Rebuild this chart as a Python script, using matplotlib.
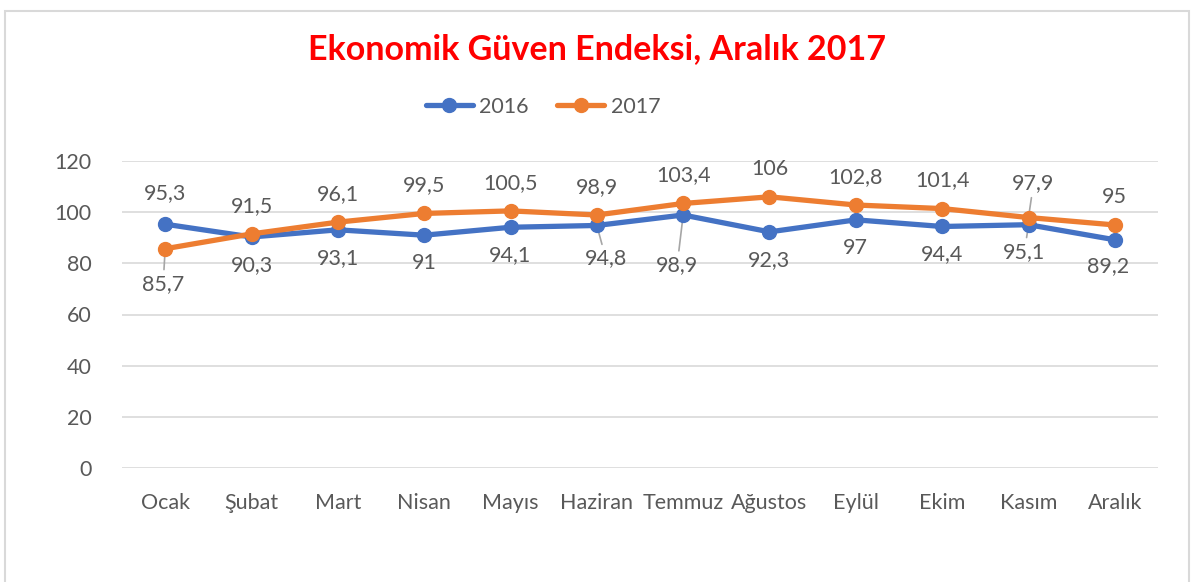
import matplotlib.pyplot as plt
from matplotlib.patches import Rectangle
import numpy as np

# veri
aylar = ['Ocak', 'Şubat', 'Mart', 'Nisan', 'Mayıs', 'Haziran', 'Temmuz',
         'Ağustos', 'Eylül', 'Ekim', 'Kasım', 'Aralık']
seri_2016 = [95.3, 90.3, 93.1, 91.0, 94.1, 94.8, 98.9, 92.3, 97.0, 94.4, 95.1, 89.2]
seri_2017 = [85.7, 91.5, 96.1, 99.5, 100.5, 98.9, 103.4, 106.0, 102.8, 101.4, 97.9, 95.0]
y_ticks = [0, 20, 40, 60, 80, 100, 120]

# etiket ofsetleri (piksel) ve kılavuz çizgisi olanlar
ofset_2016 = {0: (0, 31), 5: (9, -33), 6: (-6, -50), 10: (-4, -27), 11: (-7, -26)}
ofset_2017 = {0: (-2, -35), 10: (5, 34)}
kilavuz_2016 = [5, 6, 10]
kilavuz_2017 = [0, 10]

mavi = '#4472C4'
turuncu = '#ED7D31'
gri_yazi = '#595959'
izgara = '#D9D9D9'
yazi_boyu = 15.5

plt.rcParams['font.family'] = ['Lato', 'DejaVu Sans']

fig = plt.figure(figsize=(11.94, 5.82), dpi=100)
ax = fig.add_axes([122 / 1194, 1 - 468 / 582, (1158 - 122) / 1194, (468 - 161) / 582])

x = np.arange(len(aylar))
ax.plot(x, seri_2016, color=mavi, lw=3.8, marker='o', ms=10, label='2016', zorder=3,
        solid_capstyle='round')
ax.plot(x, seri_2017, color=turuncu, lw=3.8, marker='o', ms=10, label='2017', zorder=4,
        solid_capstyle='round')


def fmt(v):
    if v == int(v):
        return str(int(v))
    return ('%.1f' % v).replace('.', ',')


def etiketle(seri, yon, ofsetler, kilavuz):
    for i, v in enumerate(seri):
        dx, dy = ofsetler.get(i, (0, 28 * yon))
        kw = {}
        if i in kilavuz:
            kw['arrowprops'] = dict(arrowstyle='-', color='#A6A6A6', lw=1.2,
                                    shrinkA=1, shrinkB=0)
        ax.annotate(fmt(v), (x[i], v), xytext=(dx, dy), textcoords='offset pixels',
                    ha='center', va='center', fontsize=yazi_boyu, color=gri_yazi,
                    zorder=2, **kw)


etiketle(seri_2016, -1, ofset_2016, kilavuz_2016)
etiketle(seri_2017, 1, ofset_2017, kilavuz_2017)

ax.set_xlim(-0.5, len(aylar) - 0.5)
ax.set_ylim(0, 120)
ax.set_yticks(y_ticks)
ax.set_xticks(x)
ax.set_xticklabels(aylar)
ax.grid(axis='y', color=izgara, lw=1.2)
ax.set_axisbelow(True)
for s in ax.spines.values():
    s.set_visible(False)
ax.tick_params(length=0, labelsize=yazi_boyu, colors=gri_yazi)
ax.tick_params(axis='x', pad=18)
ax.tick_params(axis='y', pad=22)

fig.text(0.5, 1 - 49 / 582, 'Ekonomik Güven Endeksi, Aralık 2017', ha='center', va='center',
         fontsize=24.5, fontweight='bold', color='#FF0000')

leg = fig.legend(loc='center', bbox_to_anchor=(543 / 1194, 1 - 107 / 582), ncol=2,
                 frameon=False, fontsize=yazi_boyu, handlelength=2.2, columnspacing=1.3,
                 handletextpad=0.3)
for t in leg.get_texts():
    t.set_color(gri_yazi)

fig.patches.append(Rectangle((5 / 1194, -0.02), 1184 / 1194, 1.01 - 5 / 582,
                             transform=fig.transFigure, fill=False,
                             edgecolor='#D9D9D9', lw=1.5))

fig.savefig('out.png', dpi=100)
